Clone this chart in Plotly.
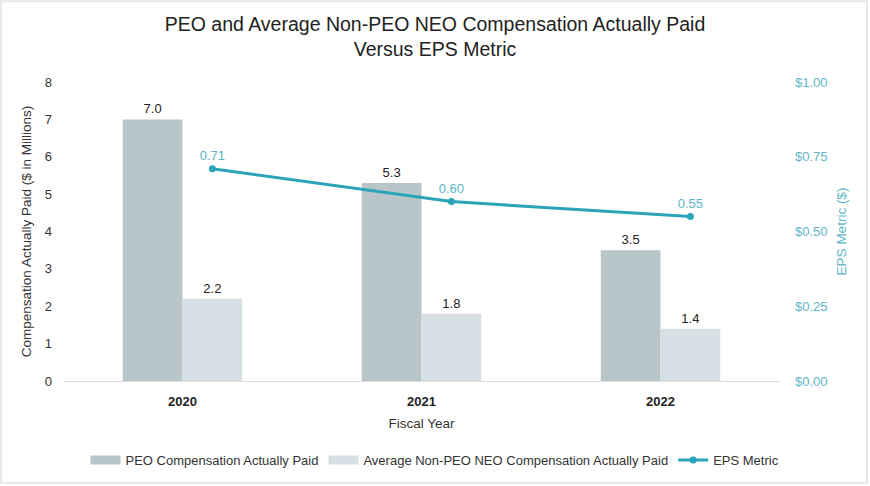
import plotly.graph_objects as go

years = ["2020", "2021", "2022"]
peo_cap = [7.0, 5.3, 3.5]
neo_cap = [2.2, 1.8, 1.4]
eps = [0.71, 0.60, 0.55]
left_ticks = [0, 1, 2, 3, 4, 5, 6, 7, 8]
right_ticks = [0.0, 0.25, 0.5, 0.75, 1.0]
right_tick_labels = ["$0.00", "$0.25", "$0.50", "$0.75", "$1.00"]

W, H = 870, 486
ML, MR, MT, MB = 63, 90, 82, 104
FONT = "Liberation Sans, Arial, Helvetica, sans-serif"
TEAL = "#2ba3b9"
TEAL_TXT = "#5db6c8"
PEO_COL = "#b8c5c9"
NEO_COL = "#d6e0e4"
PEO_NAME = "PEO Compensation Actually Paid"
NEO_NAME = "Average Non-PEO NEO Compensation Actually Paid"

fig = go.Figure()
fig.add_trace(go.Bar(
    x=years, y=peo_cap, name=PEO_NAME, showlegend=False,
    marker=dict(color=PEO_COL, line=dict(width=0)),
    text=[f"{v:.1f}" for v in peo_cap], textposition="outside",
    textfont=dict(size=13, color="#222222"), cliponaxis=False,
))
fig.add_trace(go.Bar(
    x=years, y=neo_cap, name=NEO_NAME, showlegend=False,
    marker=dict(color=NEO_COL, line=dict(width=0)),
    text=[f"{v:.1f}" for v in neo_cap], textposition="outside",
    textfont=dict(size=13, color="#222222"), cliponaxis=False,
))
# legend-only entries drawn as wide swatches
fig.add_trace(go.Scatter(
    x=[None], y=[None], name=PEO_NAME, mode="lines",
    line=dict(color=PEO_COL, width=9), showlegend=True,
))
fig.add_trace(go.Scatter(
    x=[None], y=[None], name=NEO_NAME, mode="lines",
    line=dict(color=NEO_COL, width=9), showlegend=True,
))
fig.add_trace(go.Scatter(
    x=years, y=eps, name="EPS Metric", xaxis="x2", yaxis="y2",
    mode="lines+markers+text",
    line=dict(color=TEAL, width=3), marker=dict(color=TEAL, size=7),
    text=[f"{v:.2f}" for v in eps], textposition="top center",
    textfont=dict(size=13, color=TEAL_TXT), cliponaxis=False,
))

fig.update_layout(
    width=W, height=H,
    margin=dict(l=ML, r=MR, t=MT, b=MB),
    paper_bgcolor="white", plot_bgcolor="white",
    font=dict(family=FONT, size=12, color="#333333"),
    title=dict(
        text="PEO and Average Non-PEO NEO Compensation Actually Paid<br>Versus EPS Metric",
        x=0.5, xanchor="center", y=1 - 31 / H, yanchor="middle",
        font=dict(family=FONT, size=19.5, color="#222222"),
    ),
    barmode="group", bargap=0.5, bargroupgap=0,
    xaxis=dict(
        type="category", range=[-0.5, 2.5],
        showline=True, linecolor="#d9dde0", linewidth=1,
        showgrid=False, ticks="", ticklabelstandoff=8,
        tickfont=dict(size=13, color="#222222", family=FONT, weight="bold"),
        title=dict(text="Fiscal Year", font=dict(size=13.5, color="#333333"), standoff=10),
    ),
    xaxis2=dict(
        type="category", overlaying="x", range=[-0.625, 2.375],
        visible=False, showgrid=False,
    ),
    yaxis=dict(
        range=[0, 8], tickvals=left_ticks, showgrid=False, zeroline=False,
        showline=False, ticks="", ticklabelstandoff=10,
        tickfont=dict(size=13, color="#333333"),
        title=dict(text="Compensation Actually Paid ($ in Millions)",
                   font=dict(size=13.5, color="#333333"), standoff=10),
    ),
    yaxis2=dict(
        range=[0, 1], overlaying="y", side="right",
        tickvals=right_ticks, ticktext=right_tick_labels,
        showgrid=False, zeroline=False, showline=False, ticks="",
        ticklabelstandoff=14,
        tickfont=dict(size=13, color=TEAL_TXT),
        title=dict(text="EPS Metric ($)", font=dict(size=13.5, color=TEAL_TXT), standoff=10),
    ),
    legend=dict(
        orientation="h", x=(W / 2 - ML) / (W - ML - MR), xanchor="center",
        y=-0.26, yanchor="middle",
        font=dict(size=13, color="#333333"),
        itemwidth=30, traceorder="normal",
    ),
    showlegend=True,
)

fig.add_shape(
    type="rect", xref="paper", yref="paper",
    x0=-(ML - 1) / (W - ML - MR), x1=1 + (MR - 3) / (W - ML - MR),
    y0=-(MB - 2) / (H - MT - MB), y1=1 + (MT - 1) / (H - MT - MB),
    line=dict(color="#e2e8eb", width=2), fillcolor="rgba(0,0,0,0)", layer="below",
)

fig.write_html(
    "out.html",
    config={"displayModeBar": False},
    post_script="document.body.style.margin='0';document.body.style.padding='0';",
)
